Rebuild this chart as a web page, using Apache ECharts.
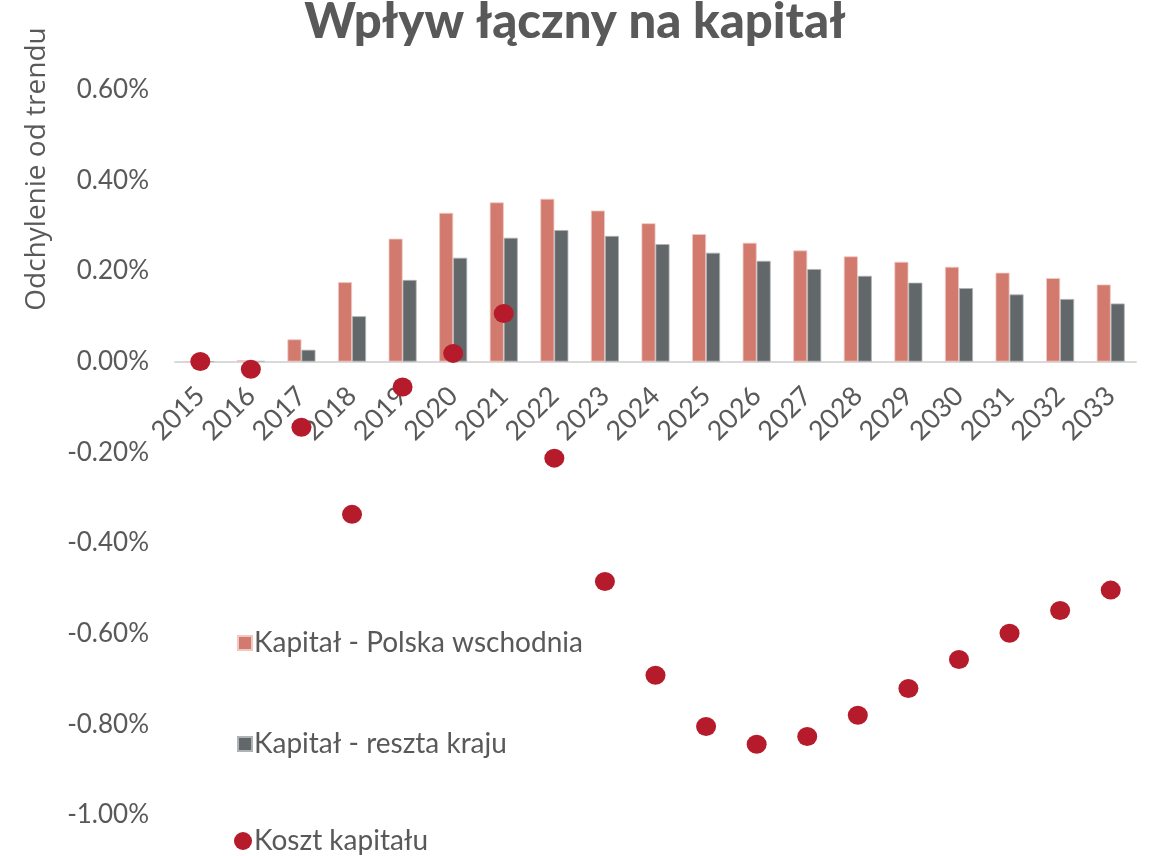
<!DOCTYPE html>
<html>
<head>
<meta charset="utf-8">
<script src="https://cdn.jsdelivr.net/npm/echarts@6/dist/echarts.min.js"></script>
<style>
html,body{margin:0;padding:0;background:#fff;}
#chart{width:1150px;height:856px;}
</style>
</head>
<body>
<div id="chart"></div>
<script>
// Data (values in percent)
const years = ['2015','2016','2017','2018','2019','2020','2021','2022','2023','2024','2025','2026','2027','2028','2029','2030','2031','2032','2033'];
const kapitalWschod = [0.000, 0.003, 0.049, 0.175, 0.271, 0.328, 0.351, 0.359, 0.333, 0.305, 0.281, 0.262, 0.245, 0.232, 0.220, 0.209, 0.196, 0.184, 0.170];
const kapitalReszta = [0.000, 0.001, 0.026, 0.100, 0.180, 0.229, 0.273, 0.290, 0.277, 0.259, 0.240, 0.222, 0.204, 0.189, 0.174, 0.162, 0.148, 0.138, 0.128];
const kosztKapitalu = [0.000, -0.017, -0.145, -0.337, -0.056, 0.018, 0.106, -0.213, -0.485, -0.692, -0.805, -0.844, -0.827, -0.780, -0.721, -0.657, -0.599, -0.549, -0.504];
const yTicks = [-1.0, -0.8, -0.6, -0.4, -0.2, 0.0, 0.2, 0.4, 0.6];
const seriesNames = ['Kapitał - Polska wschodnia', 'Kapitał - reszta kraju', 'Koszt kapitału'];

const textColor = '#595959';
const font = 'Lato, "Open Sans", sans-serif';

const yMin = yTicks[0], yMax = yTicks[yTicks.length - 1];
const gridTop = 89.5, gridBottom = 41, chartH = 856;
const gridH = chartH - gridTop - gridBottom;
// move the category axis (line + labels) up to the zero line
const xAxisOffset = -gridH * (0 - yMin) / (yMax - yMin);

const legendText = { color: textColor, fontFamily: font, fontSize: 28, padding: [0, 0, 0, -3] };

const chart = echarts.init(document.getElementById('chart'));
chart.setOption({
  backgroundColor: '#ffffff',
  animation: false,
  title: {
    text: 'Wpływ łączny na kapitał',
    left: 'center',
    top: -7,
    textStyle: { color: textColor, fontFamily: font, fontWeight: 900, fontSize: 49 }
  },
  graphic: [{
    type: 'text',
    x: 37, y: 169,
    rotation: Math.PI / 2,
    style: {
      text: 'Odchylenie od trendu',
      fill: textColor,
      font: '28px "Open Sans", sans-serif',
      textAlign: 'center',
      textVerticalAlign: 'middle'
    }
  }],
  legend: [
    { left: 232, top: 624, itemWidth: 14, itemHeight: 14, textStyle: legendText,
      data: [{ name: seriesNames[0], icon: 'rect' }] },
    { left: 232, top: 725, itemWidth: 14, itemHeight: 14, textStyle: legendText,
      data: [{ name: seriesNames[1], icon: 'rect' }] },
    { left: 229, top: 822, itemWidth: 18, itemHeight: 18, textStyle: legendText,
      data: [{ name: seriesNames[2], icon: 'circle' }] }
  ],
  grid: { left: 175, right: 14, top: gridTop, bottom: gridBottom, outerBoundsMode: 'none', containLabel: false },
  xAxis: {
    type: 'category',
    data: years,
    offset: xAxisOffset,
    axisLine: { onZero: false, lineStyle: { color: '#d9d9d9', width: 2 } },
    axisTick: { show: false },
    axisLabel: { color: textColor, fontFamily: font, fontSize: 27, rotate: 45, margin: 30, interval: 0 }
  },
  yAxis: {
    type: 'value',
    min: yMin,
    max: yMax,
    interval: 0.2,
    splitLine: { show: false },
    axisLine: { show: false },
    axisTick: { show: false },
    axisLabel: {
      color: textColor, fontFamily: font, fontSize: 26, margin: 26,
      formatter: v => v.toFixed(2) + '%'
    }
  },
  series: [
    {
      name: seriesNames[0], type: 'bar', data: kapitalWschod,
      barWidth: 14, barGap: '0%',
      itemStyle: { color: '#D27A6E', borderColor: '#f0c8c2', borderWidth: 0.8 }
    },
    {
      name: seriesNames[1], type: 'bar', data: kapitalReszta,
      barWidth: 14, barGap: '0%',
      itemStyle: { color: '#62676A', borderColor: '#b0b3b5', borderWidth: 0.8 }
    },
    {
      name: seriesNames[2], type: 'scatter', data: kosztKapitalu,
      symbol: 'circle', symbolSize: [20, 19], z: 5,
      itemStyle: { color: '#B51B2A', opacity: 1 }
    }
  ]
});
</script>
</body>
</html>
